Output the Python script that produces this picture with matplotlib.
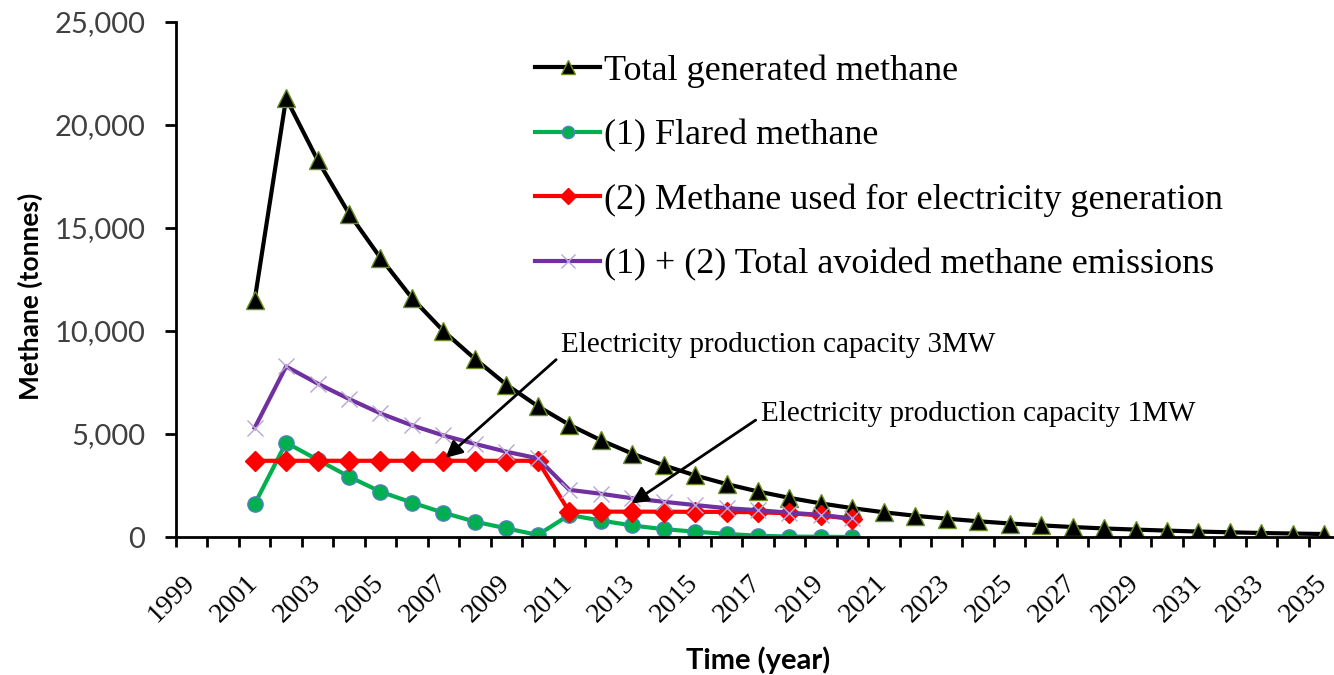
import matplotlib
matplotlib.use('Agg')
import matplotlib.pyplot as plt
import matplotlib.transforms as mtransforms
from matplotlib.ticker import FuncFormatter, FixedLocator
import numpy as np

# data (tonnes)
years_total = list(range(2001, 2036))
total = [11500, 21300, 18300, 15700, 13550, 11600, 10000, 8650, 7400, 6350,
         5450, 4700, 4050, 3480, 2990, 2570, 2210, 1900, 1630, 1400,
         1200, 1030, 890, 765, 655, 565, 485, 415, 360, 310,
         265, 228, 195, 168, 145]

years_short = list(range(2001, 2021))
flared = [1600, 4580, 3750, 2930, 2200, 1670, 1180, 745, 420, 100,
          1070, 800, 560, 380, 260, 150, 60, 20, 10, 0]
electricity = [3700, 3700, 3700, 3700, 3700, 3700, 3700, 3700, 3700, 3700,
               1230, 1230, 1230, 1230, 1220, 1220, 1200, 1150, 1050, 870]
avoided = [5300, 8280, 7450, 6700, 6000, 5420, 4930, 4520, 4140, 3820,
           2290, 2100, 1880, 1710, 1550, 1400, 1300, 1180, 1070, 900]

labels = ["Total generated methane", "(1) Flared methane",
          "(2) Methane used for electricity generation",
          "(1) + (2) Total avoided methane emissions"]

fig = plt.figure(figsize=(13.34, 6.75), dpi=100)
ax = fig.add_axes([176/1334, 138/675, 1164/1334, 515/675])

l1, = ax.plot(years_total, total, color='black', lw=3, marker='^', ms=13,
              mfc='black', mec='#6b8e23', mew=1)
l2, = ax.plot(years_short, flared, color='#00b050', lw=3, marker='o', ms=11,
              mfc='#00b050', mec='#4f81bd', mew=1)
l3, = ax.plot(years_short, electricity, color='#ff0000', lw=3, marker='D', ms=10,
              mfc='#ff0000', mec='#ff0000')
l4, = ax.plot(years_short, avoided, color='#7030a0', lw=3, marker='x', ms=12,
              mec='#b9a6d6', mew=1)

ax.set_xlim(1998.5, 2035.5)
ax.set_ylim(0, 25000)
ax.set_yticks(range(0, 25001, 5000))
ax.yaxis.set_major_formatter(FuncFormatter(lambda v, p: '{:,.0f}'.format(v)))
ax.set_xticks(range(1999, 2036, 2))
ax.xaxis.set_minor_locator(FixedLocator(np.arange(1998.5, 2036, 1)))
ax.tick_params(axis='x', which='major', length=0, pad=34)
ax.tick_params(axis='x', which='minor', length=7, width=2, direction='out')
ax.tick_params(axis='y', length=8, width=2, direction='out', pad=14)

shift = mtransforms.ScaledTranslation(4/100, 0, fig.dpi_scale_trans)
for lab in ax.get_xticklabels():
    lab.set_rotation(45)
    lab.set_ha('right')
    lab.set_va('baseline')
    lab.set_rotation_mode('anchor')
    lab.set_family('Liberation Serif')
    lab.set_fontsize(20)
    lab.set_transform(lab.get_transform() + shift)
for lab in ax.get_yticklabels():
    lab.set_family('Lato')
    lab.set_fontsize(21)
    lab.set_color('#404040')

for s in ['top', 'right']:
    ax.spines[s].set_visible(False)
ax.spines['left'].set_linewidth(2)
ax.spines['bottom'].set_linewidth(2)

fig.text(30/1334, 1 - 296/675, 'Methane (tonnes)', family='Lato', fontweight='bold',
         fontsize=19, rotation=90, ha='center', va='center')
fig.text(758/1334, 1 - 660/675, 'Time (year)', family='Lato', fontweight='bold',
         fontsize=21, ha='center', va='center')

leg = fig.legend([l1, l2, l3, l4], labels, loc='upper left',
                 bbox_to_anchor=(535/1334, 1 - 54/675), frameon=False,
                 prop={'family': 'Liberation Serif', 'size': 26},
                 handlelength=1.8, handletextpad=0.12, labelspacing=0.87,
                 borderpad=0, borderaxespad=0, markerscale=0.8)

ax.annotate('', xy=(2007, 3750), xytext=(2010.65, 8700),
            arrowprops=dict(arrowstyle='-|>', color='black', lw=2, mutation_scale=25))
ax.text(2010.75, 9300, 'Electricity production capacity 3MW', family='Liberation Serif',
        fontsize=21, va='center', ha='left')
ax.annotate('', xy=(2012.9, 1550), xytext=(2017.0, 5750),
            arrowprops=dict(arrowstyle='-|>', color='black', lw=2, mutation_scale=25))
ax.text(2017.1, 5950, 'Electricity production capacity 1MW', family='Liberation Serif',
        fontsize=21, va='center', ha='left')

fig.savefig('out.png', dpi=100)
